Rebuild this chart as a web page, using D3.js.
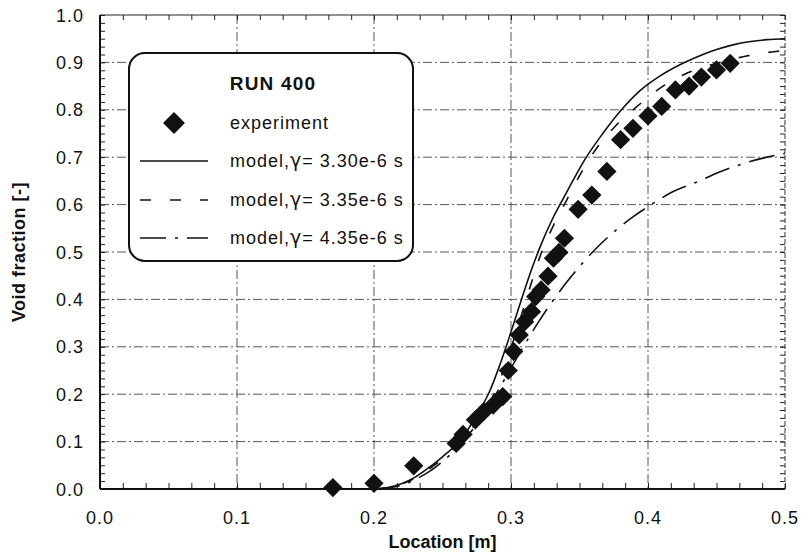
<!DOCTYPE html>
<html>
<head>
<meta charset="utf-8">
<script src="https://cdn.jsdelivr.net/npm/d3@7"></script>
<style>
  body { margin: 0; background: #fff; }
  text { font-family: "Liberation Sans", Arial, sans-serif; fill: #111; }
</style>
</head>
<body>
<div id="chart"></div>
<script>
// ---- data ----
const expX = [0.170, 0.200, 0.229, 0.260, 0.265, 0.274, 0.280, 0.287, 0.294, 0.298,
  0.302, 0.306, 0.310, 0.315, 0.318, 0.322, 0.327, 0.331, 0.335, 0.339,
  0.349, 0.359, 0.370, 0.380, 0.389, 0.400, 0.410, 0.420, 0.430, 0.439, 0.450, 0.460];
const expY = [0.003, 0.012, 0.049, 0.096, 0.115, 0.146, 0.163, 0.177, 0.195, 0.250,
  0.290, 0.325, 0.353, 0.374, 0.406, 0.420, 0.449, 0.487, 0.499, 0.529,
  0.590, 0.620, 0.670, 0.737, 0.761, 0.787, 0.807, 0.842, 0.850, 0.869, 0.884, 0.898];

const m330X = [0.000, 0.200, 0.210, 0.220, 0.230, 0.240, 0.250, 0.260, 0.270, 0.278,
  0.285, 0.291, 0.297, 0.303, 0.309, 0.315, 0.322, 0.330, 0.338, 0.346,
  0.355, 0.367, 0.380, 0.394, 0.408, 0.424, 0.437, 0.450, 0.462, 0.475, 0.487, 0.500];
const m330Y = [0.000, 0.000, 0.003, 0.011, 0.025, 0.045, 0.068, 0.094, 0.132, 0.170,
  0.210, 0.255, 0.305, 0.358, 0.412, 0.463, 0.516, 0.568, 0.612, 0.655,
  0.700, 0.750, 0.798, 0.840, 0.870, 0.896, 0.913, 0.927, 0.937, 0.944, 0.948, 0.950];

const m335X = [0.200, 0.210, 0.220, 0.230, 0.240, 0.250, 0.260, 0.270, 0.280, 0.288,
  0.295, 0.302, 0.309, 0.316, 0.323, 0.331, 0.340, 0.351, 0.363, 0.377,
  0.392, 0.411, 0.429, 0.449, 0.471, 0.493, 0.500];
const m335Y = [0.000, 0.002, 0.010, 0.023, 0.042, 0.064, 0.090, 0.122, 0.160, 0.203,
  0.255, 0.315, 0.380, 0.445, 0.505, 0.556, 0.606, 0.666, 0.721, 0.768,
  0.807, 0.850, 0.878, 0.897, 0.913, 0.923, 0.925];

const m435X = [0.200, 0.210, 0.220, 0.230, 0.240, 0.250, 0.260, 0.270, 0.280, 0.290,
  0.300, 0.310, 0.320, 0.330, 0.340, 0.352, 0.363, 0.377, 0.390, 0.404,
  0.418, 0.436, 0.450, 0.468, 0.484, 0.500];
const m435Y = [0.000, 0.002, 0.008, 0.020, 0.036, 0.058, 0.085, 0.118, 0.158, 0.205,
  0.255, 0.305, 0.352, 0.395, 0.434, 0.476, 0.510, 0.547, 0.576, 0.603,
  0.627, 0.648, 0.666, 0.685, 0.698, 0.708];

const xTicks = [0.0, 0.1, 0.2, 0.3, 0.4, 0.5];
const yTicks = [0.0, 0.1, 0.2, 0.3, 0.4, 0.5, 0.6, 0.7, 0.8, 0.9, 1.0];
const legendTitle = "RUN 400";
const legendLabels = ["experiment", "model,\u03B3= 3.30e-6 s", "model,\u03B3= 3.35e-6 s", "model,\u03B3= 4.35e-6 s"];

const svgWidth = 803;
const svgHeight = 552;
const margin = { top: 15, right: 18, bottom: 63, left: 100 };
const width = svgWidth - margin.left - margin.right;
const height = svgHeight - margin.top - margin.bottom;

const svg = d3.select("#chart")
  .append("svg")
  .attr("width", svgWidth)
  .attr("height", svgHeight);

const g = svg.append("g")
  .attr("transform", `translate(${margin.left},${margin.top})`);

const x = d3.scaleLinear().domain([0, 0.5]).range([0, width]);
const y = d3.scaleLinear().domain([0, 1]).range([height, 0]);

// grid lines
g.append("g").selectAll("line")
  .data(yTicks.filter(v => v > 0 && v < 1))
  .enter().append("line")
  .attr("x1", 0).attr("x2", width)
  .attr("y1", d => y(d)).attr("y2", d => y(d))
  .attr("stroke", "#444").attr("stroke-width", 0.9)
  .attr("stroke-dasharray", "9,3,2,3");

g.append("g").selectAll("line")
  .data(xTicks.filter(v => v > 0 && v < 0.5))
  .enter().append("line")
  .attr("y1", 0).attr("y2", height)
  .attr("x1", d => x(d)).attr("x2", d => x(d))
  .attr("stroke", "#444").attr("stroke-width", 0.9)
  .attr("stroke-dasharray", "9,3,2,3");

// minor ticks, 6 divisions per major step, on all four sides pointing inward
const minorX = d3.range(0, 31).map(i => i / 60);
const minorY = d3.range(0, 61).map(i => i / 60);

const bottomAxis = d3.axisBottom(x).tickValues(minorX).tickSize(-6).tickFormat("");
const topAxis = d3.axisTop(x).tickValues(minorX).tickSize(-5).tickFormat("");
const leftAxis = d3.axisLeft(y).tickValues(minorY).tickSize(-5).tickFormat("");
const rightAxis = d3.axisRight(y).tickValues(minorY).tickSize(-5).tickFormat("");

g.append("g").attr("class", "ax").attr("transform", `translate(0,${height})`).call(bottomAxis);
g.append("g").attr("class", "ax").call(topAxis);
g.append("g").attr("class", "ax").call(leftAxis);
g.append("g").attr("class", "ax").attr("transform", `translate(${width},0)`).call(rightAxis);
g.selectAll(".ax .domain").remove();
g.selectAll(".ax line").attr("stroke", "#222").attr("stroke-width", 1);

// frame
g.append("line").attr("x1", 0).attr("x2", width).attr("y1", 0).attr("y2", 0)
  .attr("stroke", "#222").attr("stroke-width", 1);
g.append("line").attr("x1", width).attr("x2", width).attr("y1", 0).attr("y2", height)
  .attr("stroke", "#333").attr("stroke-width", 1).attr("stroke-dasharray", "5,2");
g.append("line").attr("x1", 0).attr("x2", width).attr("y1", height).attr("y2", height)
  .attr("stroke", "#111").attr("stroke-width", 2);
g.append("line").attr("x1", 0).attr("x2", 0).attr("y1", 0).attr("y2", height)
  .attr("stroke", "#111").attr("stroke-width", 2);

// tick labels
g.append("g").selectAll("text")
  .data(xTicks)
  .enter().append("text")
  .attr("x", d => x(d))
  .attr("y", height + 35)
  .attr("text-anchor", "middle")
  .style("font-size", "18px")
  .style("letter-spacing", "1px")
  .text(d => d.toFixed(1));

g.append("g").selectAll("text")
  .data(yTicks)
  .enter().append("text")
  .attr("x", -16)
  .attr("y", d => y(d) + 6.5)
  .attr("text-anchor", "end")
  .style("font-size", "18px")
  .style("letter-spacing", "1px")
  .text(d => d.toFixed(1));

// axis titles
g.append("text")
  .attr("x", width / 2)
  .attr("y", height + 59)
  .attr("text-anchor", "middle")
  .style("font-size", "18px")
  .style("font-weight", "bold")
  .text("Location [m]");

svg.append("text")
  .attr("transform", `translate(25,${margin.top + height / 2}) rotate(-90)`)
  .attr("text-anchor", "middle")
  .style("font-size", "18px")
  .style("font-weight", "bold")
  .style("letter-spacing", "0.5px")
  .text("Void fraction [-]");

// model curves
const line = d3.line()
  .x(d => x(d[0]))
  .y(d => y(d[1]))
  .curve(d3.curveMonotoneX);

const models = [
  { xs: m330X, ys: m330Y, dash: null },
  { xs: m335X, ys: m335Y, dash: "11,19" },
  { xs: m435X, ys: m435Y, dash: "26,9,3,9" }
];

models.forEach(m => {
  g.append("path")
    .datum(m.xs.map((v, i) => [v, m.ys[i]]))
    .attr("d", line)
    .attr("fill", "none")
    .attr("stroke", "#111")
    .attr("stroke-width", 1.6)
    .attr("stroke-dasharray", m.dash);
});

// experiment diamonds
const diamond = d3.symbol().type(d3.symbolSquare).size(185);
g.append("g").selectAll("path")
  .data(expX)
  .enter().append("path")
  .attr("d", diamond)
  .attr("transform", (d, i) => `translate(${x(d)},${y(expY[i])}) rotate(45)`)
  .attr("fill", "#111");

// legend
const leg = svg.append("g").attr("transform", "translate(129,53)");
leg.append("rect")
  .attr("x", 0).attr("y", 0)
  .attr("width", 284).attr("height", 208)
  .attr("rx", 16).attr("ry", 16)
  .attr("fill", "#fff")
  .attr("stroke", "#111")
  .attr("stroke-width", 2);

leg.append("text")
  .attr("x", 144).attr("y", 37)
  .attr("text-anchor", "middle")
  .style("font-size", "19px")
  .style("font-weight", "bold")
  .style("letter-spacing", "1.2px")
  .text(legendTitle);

const rowY = [70, 108, 147, 185];
leg.append("path")
  .attr("d", d3.symbol().type(d3.symbolSquare).size(240))
  .attr("transform", `translate(45,${rowY[0]}) rotate(45)`)
  .attr("fill", "#111");

models.forEach((m, i) => {
  leg.append("line")
    .attr("x1", 11).attr("x2", 79)
    .attr("y1", rowY[i + 1]).attr("y2", rowY[i + 1])
    .attr("stroke", "#111")
    .attr("stroke-width", 1.6)
    .attr("stroke-dasharray", m.dash);
});

// labels; the gamma is set in DejaVu Sans so it reads as a real gamma
legendLabels.forEach((lab, i) => {
  const t = leg.append("text")
    .attr("x", 101)
    .attr("y", rowY[i] + 6)
    .style("font-size", "18px")
    .style("letter-spacing", "1px");
  const parts = lab.split("\u03B3");
  t.append("tspan").text(parts[0]);
  if (parts.length > 1) {
    t.append("tspan").style("font-family", "'DejaVu Sans'").style("font-size", "19px").text("\u03B3");
    t.append("tspan").text(parts[1]);
  }
});
</script>
</body>
</html>
